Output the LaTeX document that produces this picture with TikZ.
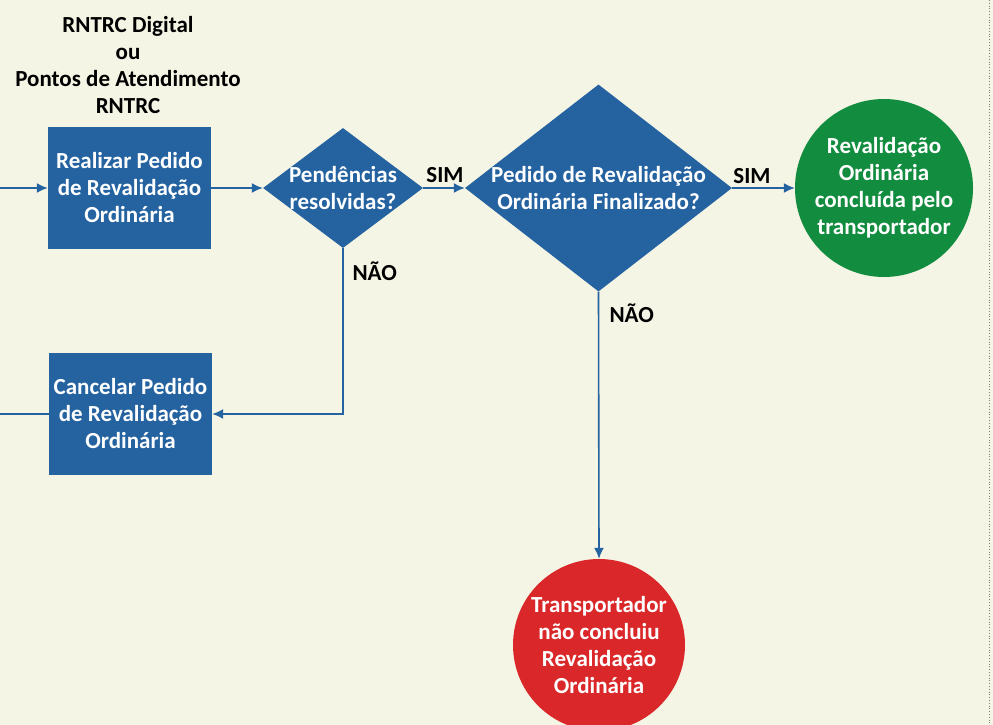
\documentclass[tikz,border=0pt]{standalone}
\usepackage{fontspec}
\setmainfont{Carlito}
\usetikzlibrary{shapes.geometric,arrows.meta}

\definecolor{fundo}{RGB}{245,245,229}
\definecolor{azul}{RGB}{36,98,160}
\definecolor{verde}{RGB}{18,140,62}
\definecolor{vermelho}{RGB}{218,40,42}

\tikzset{
  txt/.style={align=center, font=\bfseries\fontsize{23}{27}\selectfont},
  caixa/.style={txt, rectangle, fill=azul, text=white, minimum width=163pt, minimum height=122pt, inner sep=0pt},
  losango/.style={diamond, fill=azul, inner sep=0pt},
  fim/.style={txt, circle, text=white, inner sep=0pt},
  seta/.style={draw=azul, line width=1.6pt, -{Latex[length=11pt,width=10pt]}},
  linha/.style={draw=azul, line width=1.6pt},
}

\begin{document}
\begin{tikzpicture}[x=1pt,y=-1pt]
\fill[fundo] (0,0) rectangle (993,725);
\useasboundingbox (0,0) rectangle (993,725);
\draw[gray, line width=0.8pt, dotted] (989,0) -- (989,725);

\node[txt] (origem) at (128,65) {RNTRC Digital\\ou\\Pontos de Atendimento\\RNTRC};

\node[caixa] (realizar) at (129.5,188) {Realizar Pedido\\de Revalidação\\Ordinária};
\node[caixa] (cancelar) at (130.5,414) {Cancelar Pedido\\de Revalidação\\Ordinária};

\node[losango, minimum width=160pt, minimum height=120pt] (pend) at (343,188) {};
\node[txt, text=white] (pendtxt) at (pend) {Pendências\\resolvidas?};

\node[losango, minimum width=267pt, minimum height=207pt] (final) at (598.5,188) {};
\node[txt, text=white] (finaltxt) at (final) {Pedido de Revalidação\\Ordinária Finalizado?};

\node[fim, fill=verde, minimum size=178pt] (ok) at (884,188) {Revalidação\\Ordinária\\concluída pelo\\transportador};
\node[fim, fill=vermelho, minimum size=172pt] (nok) at (599,645) {Transportador\\não concluiu\\Revalidação\\Ordinária};

\coordinate (entrada) at (0,188);
\coordinate (saida) at (0,414);

\draw[seta] (entrada) -- (realizar.west);
\draw[seta] (realizar.east) -- (pend.west);
\draw[seta] (pend.east) -- (final.west);
\draw[seta] (final.east) -- (ok.west);
\draw[seta] (pend.south) |- (cancelar.east);
\draw[seta] (final.south) -- (nok.north);
\draw[linha] (cancelar.west) -- (saida);

\node[txt] (sim1) at (445,175) {SIM};
\node[txt] (sim2) at (752,176) {SIM};
\node[txt, anchor=west] (nao1) at (349,271) {NÃO};
\node[txt, anchor=west] (nao2) at (606,313) {NÃO};
\end{tikzpicture}
\end{document}
